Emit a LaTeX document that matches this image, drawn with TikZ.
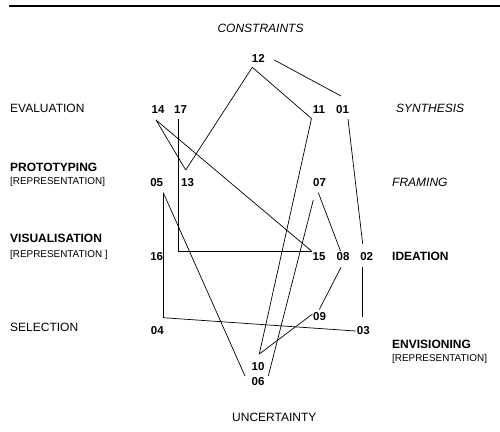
\documentclass[tikz,border=0pt]{standalone}
\usepackage{fontspec}
\setmainfont{Liberation Sans}
\begin{document}
\begin{tikzpicture}[x=1pt,y=-1pt,
  lbl/.style={inner sep=0pt,text height=8.6pt,text depth=0pt,font=\fontsize{12}{14}\selectfont},
  lblb/.style={lbl,font=\fontsize{12}{14}\selectfont\bfseries},
  lbli/.style={lbl,font=\fontsize{12}{14}\selectfont\itshape},
  sub/.style={inner sep=0pt,text height=7.1pt,text depth=0pt,font=\fontsize{9.9}{11}\selectfont},
  num/.style={inner sep=0pt,text height=8.3pt,text depth=0pt,font=\fontsize{11.5}{13}\selectfont\bfseries},
  link/.style={line width=0.7pt,black}]
\useasboundingbox (0,0) rectangle (500,431);
% top rule
\coordinate (r1) at (9,5.8);
\coordinate (r2) at (500,5.8);
\draw[line width=1.9pt] (r1) -- (r2);

% category labels
\node[lbli] (constraints) at (260.5,28) {CONSTRAINTS};
\node[lbl,anchor=west] (evaluation) at (10,108.5) {EVALUATION};
\node[lbli,anchor=west] (synthesis) at (396,108.5) {SYNTHESIS};
\node[lblb,anchor=west] (prototyping) at (10,167.5) {PROTOTYPING};
\node[sub,anchor=west] (rep1) at (10,180.5) {[REPRESENTATION]};
\node[lbli,anchor=west] (framing) at (392,182.5) {FRAMING};
\node[lblb,anchor=west] (visualisation) at (10,238.5) {VISUALISATION};
\node[sub,anchor=west] (rep2) at (10,254) {[REPRESENTATION ]};
\node[lblb,anchor=west] (ideation) at (392,256.5) {IDEATION};
\node[lbl,anchor=west] (selection) at (10,327) {SELECTION};
\node[lblb,anchor=west] (envisioning) at (392,344) {ENVISIONING};
\node[sub,anchor=west] (rep3) at (392,358) {[REPRESENTATION]};
\node[lbl] (uncertainty) at (274.3,417) {UNCERTAINTY};

% number labels
\node[num] (n01) at (342.5,109) {01};
\node[num] (n02) at (366.7,256.5) {02};
\node[num] (n03) at (363.3,330) {03};
\node[num] (n04) at (157.3,330) {04};
\node[num] (n05) at (156.7,182.5) {05};
\node[num] (n06) at (258,381) {06};
\node[num] (n07) at (319.5,182.5) {07};
\node[num] (n08) at (343,256.5) {08};
\node[num] (n09) at (319.5,316) {09};
\node[num] (n10) at (258,366.7) {10};
\node[num] (n11) at (319,109) {11};
\node[num] (n12) at (258.3,58.5) {12};
\node[num] (n13) at (187.5,182.5) {13};
\node[num] (n14) at (158,109) {14};
\node[num] (n15) at (319,256.5) {15};
\node[num] (n16) at (156.7,256.5) {16};
\node[num] (n17) at (180.5,109) {17};

% connector end points
\coordinate (a01) at (341,96);
\coordinate (b01) at (348,119);
\coordinate (a02) at (362.7,244);
\coordinate (b02) at (362.7,267.3);
\coordinate (a03) at (362.7,317.3);
\coordinate (b03) at (355.5,331);
\coordinate (v04) at (163.3,317.7);
\coordinate (v05) at (163.3,192.7);
\coordinate (a06) at (245,376);
\coordinate (b06) at (268.3,376);
\coordinate (a07) at (313.3,200);
\coordinate (v07) at (318.3,192.7);
\coordinate (a08) at (340.5,251);
\coordinate (b08) at (341,267.3);
\coordinate (a09) at (319.3,309.5);
\coordinate (b09) at (312.5,314);
\coordinate (v10) at (259.3,354);
\coordinate (v11) at (311.5,118.5);
\coordinate (v12) at (252.3,67.3);
\coordinate (a12) at (274.3,60);
\coordinate (v13) at (185.7,170);
\coordinate (v14) at (156,120);
\coordinate (v15) at (311.5,251);
\coordinate (v16) at (178.3,251);
\coordinate (v17) at (178.3,119);

% connectors
\draw[link] (a12) -- (a01);
\draw[link] (b01) -- (a02);
\draw[link] (b02) -- (a03);
\draw[link] (b03) -- (v04);
\draw[link] (v04) -- (v05);
\draw[link] (v05) -- (a06);
\draw[link] (b06) -- (a07);
\draw[link] (v07) -- (a08);
\draw[link] (b08) -- (a09);
\draw[link] (b09) -- (v10);
\draw[link] (v10) -- (v11);
\draw[link] (v11) -- (v12);
\draw[link] (v12) -- (v13);
\draw[link] (v13) -- (v14);
\draw[link] (v14) -- (v15);
\draw[link] (v15) -- (v16);
\draw[link] (v16) -- (v17);
\end{tikzpicture}
\end{document}
